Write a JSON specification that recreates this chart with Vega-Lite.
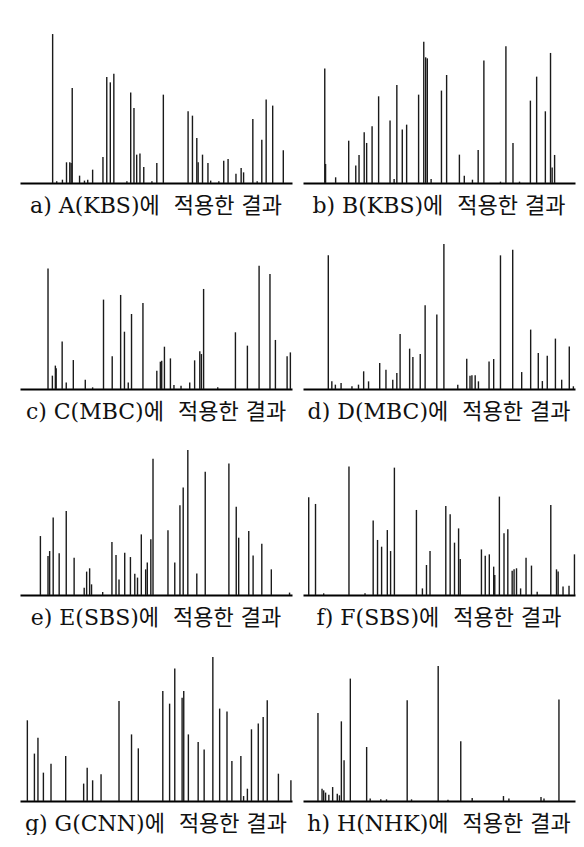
{
  "$schema": "https://vega.github.io/schema/vega-lite/v6.json",
  "background": "white",
  "padding": {"left": 20, "top": 33, "right": 8, "bottom": 0},
  "datasets": {
    "captions": [
      {"p": "a", "caption": "a) A(KBS)에\u00a0 적용한 결과"},
      {"p": "b", "caption": "b) B(KBS)에\u00a0 적용한 결과"},
      {"p": "c", "caption": "c) C(MBC)에\u00a0 적용한 결과"},
      {"p": "d", "caption": "d) D(MBC)에\u00a0 적용한 결과"},
      {"p": "e", "caption": "e) E(SBS)에\u00a0 적용한 결과"},
      {"p": "f", "caption": "f) F(SBS)에\u00a0 적용한 결과"},
      {"p": "g", "caption": "g) G(CNN)에\u00a0 적용한 결과"},
      {"p": "h", "caption": "h) H(NHK)에\u00a0 적용한 결과"}
    ],
    "spikes": [
      {"p":"a","t":12.0,"v":99.3},{"p":"a","t":13.5,"v":1.1},{"p":"a","t":15.6,"v":2.2},{"p":"a","t":17.1,"v":13.8},{"p":"a","t":18.3,"v":13.8},{"p":"a","t":18.8,"v":13.3},{"p":"a","t":19.2,"v":63.3},{"p":"a","t":21.9,"v":4.9},{"p":"a","t":23.7,"v":1.6},{"p":"a","t":24.9,"v":2.2},{"p":"a","t":26.7,"v":8.9},{"p":"a","t":30.5,"v":17.3},{"p":"a","t":31.9,"v":70.7},{"p":"a","t":33.2,"v":67.1},{"p":"a","t":34.5,"v":72.9},{"p":"a","t":39.3,"v":1.1},{"p":"a","t":40.7,"v":60.4},{"p":"a","t":41.9,"v":50},{"p":"a","t":42.9,"v":18.9},{"p":"a","t":44.1,"v":19.6},{"p":"a","t":45.5,"v":10.7},{"p":"a","t":48.5,"v":1.1},{"p":"a","t":50.3,"v":13.3},{"p":"a","t":52.7,"v":58.9},{"p":"a","t":61.8,"v":47.8},{"p":"a","t":63.4,"v":44.9},{"p":"a","t":65.0,"v":30},{"p":"a","t":65.5,"v":13.8},{"p":"a","t":67.1,"v":18.9},{"p":"a","t":69.1,"v":13.3},{"p":"a","t":70.1,"v":1.6},{"p":"a","t":73.1,"v":1.1},{"p":"a","t":74.9,"v":14.9},{"p":"a","t":76.5,"v":16},{"p":"a","t":79.4,"v":6.2},{"p":"a","t":81.3,"v":10},{"p":"a","t":82.2,"v":7.1},{"p":"a","t":85.6,"v":42.7},{"p":"a","t":87.2,"v":1.1},{"p":"a","t":88.9,"v":28.9},{"p":"a","t":90.5,"v":55.6},{"p":"a","t":92.9,"v":51.6},{"p":"a","t":96.8,"v":21.8},
      {"p":"b","t":8.0,"v":76.4},{"p":"b","t":8.3,"v":12.7},{"p":"b","t":12.0,"v":3.8},{"p":"b","t":16.8,"v":28.2},{"p":"b","t":19.4,"v":11.6},{"p":"b","t":20.6,"v":18.7},{"p":"b","t":22.5,"v":33.8},{"p":"b","t":23.4,"v":26.7},{"p":"b","t":25.4,"v":37.8},{"p":"b","t":27.8,"v":57.8},{"p":"b","t":32.0,"v":41.6},{"p":"b","t":33.5,"v":2.7},{"p":"b","t":34.5,"v":65.3},{"p":"b","t":36.5,"v":35.6},{"p":"b","t":38.1,"v":38.9},{"p":"b","t":42.5,"v":58.9},{"p":"b","t":44.4,"v":94.2},{"p":"b","t":45.1,"v":83.8},{"p":"b","t":45.7,"v":83.1},{"p":"b","t":47.1,"v":2.7},{"p":"b","t":50.9,"v":61.6},{"p":"b","t":52.8,"v":72},{"p":"b","t":57.5,"v":18.9},{"p":"b","t":59.3,"v":4.9},{"p":"b","t":62.3,"v":2.2},{"p":"b","t":64.4,"v":22},{"p":"b","t":66.5,"v":81.6},{"p":"b","t":72.6,"v":0.9},{"p":"b","t":74.6,"v":91.1},{"p":"b","t":77.2,"v":26.7},{"p":"b","t":79.6,"v":0.9},{"p":"b","t":83.6,"v":54.9},{"p":"b","t":85.9,"v":70.9},{"p":"b","t":89.1,"v":47.8},{"p":"b","t":91.0,"v":86.7},{"p":"b","t":91.6,"v":10.4},{"p":"b","t":92.5,"v":18.7},
      {"p":"c","t":10.3,"v":80.4},{"p":"c","t":11.9,"v":8.9},{"p":"c","t":13.0,"v":15.6},{"p":"c","t":13.3,"v":13.8},{"p":"c","t":15.5,"v":31.6},{"p":"c","t":17.0,"v":4.4},{"p":"c","t":19.6,"v":19.3},{"p":"c","t":24.0,"v":6.2},{"p":"c","t":26.7,"v":1.1},{"p":"c","t":30.7,"v":59.6},{"p":"c","t":33.9,"v":21.8},{"p":"c","t":37.0,"v":62.7},{"p":"c","t":38.4,"v":38.2},{"p":"c","t":39.8,"v":4.4},{"p":"c","t":41.0,"v":50},{"p":"c","t":45.2,"v":57.3},{"p":"c","t":50.3,"v":12.2},{"p":"c","t":51.6,"v":18.2},{"p":"c","t":52.1,"v":18.9},{"p":"c","t":53.1,"v":28.2},{"p":"c","t":55.3,"v":20.4},{"p":"c","t":56.6,"v":2.7},{"p":"c","t":59.2,"v":2.2},{"p":"c","t":62.4,"v":4.4},{"p":"c","t":64.2,"v":19.1},{"p":"c","t":66.1,"v":25.1},{"p":"c","t":66.7,"v":23.3},{"p":"c","t":67.5,"v":66.7},{"p":"c","t":72.7,"v":1.1},{"p":"c","t":79.2,"v":37.8},{"p":"c","t":83.6,"v":28.9},{"p":"c","t":87.9,"v":82.2},{"p":"c","t":91.9,"v":76.7},{"p":"c","t":93.9,"v":32.7},{"p":"c","t":98.2,"v":21.8},{"p":"c","t":99.4,"v":24.4},
      {"p":"d","t":9.3,"v":89.1},{"p":"d","t":10.6,"v":5.1},{"p":"d","t":11.9,"v":2.9},{"p":"d","t":14.0,"v":4.0},{"p":"d","t":18.0,"v":1.8},{"p":"d","t":20.4,"v":2.9},{"p":"d","t":22.3,"v":11.8},{"p":"d","t":24.1,"v":5.1},{"p":"d","t":28.2,"v":17.3},{"p":"d","t":30.5,"v":12.9},{"p":"d","t":33.0,"v":6.2},{"p":"d","t":34.5,"v":10.7},{"p":"d","t":35.7,"v":36.7},{"p":"d","t":39.2,"v":26.9},{"p":"d","t":40.4,"v":21.3},{"p":"d","t":43.1,"v":23.3},{"p":"d","t":44.9,"v":55.8},{"p":"d","t":49.2,"v":49.6},{"p":"d","t":51.8,"v":96.7},{"p":"d","t":56.9,"v":2.9},{"p":"d","t":60.2,"v":20.2},{"p":"d","t":61.4,"v":8.9},{"p":"d","t":62.1,"v":9.1},{"p":"d","t":63.3,"v":9.1},{"p":"d","t":64.5,"v":5.1},{"p":"d","t":68.4,"v":18.4},{"p":"d","t":70.1,"v":20},{"p":"d","t":72.6,"v":89.1},{"p":"d","t":77.1,"v":92.9},{"p":"d","t":80.4,"v":11.3},{"p":"d","t":83.7,"v":39.6},{"p":"d","t":86.5,"v":24},{"p":"d","t":88.0,"v":5.3},{"p":"d","t":89.8,"v":22.2},{"p":"d","t":92.8,"v":33.6},{"p":"d","t":95.1,"v":6.2},{"p":"d","t":97.9,"v":28.4},{"p":"d","t":99.4,"v":1.8},
      {"p":"e","t":7.5,"v":39.3},{"p":"e","t":10.3,"v":26},{"p":"e","t":10.9,"v":29.3},{"p":"e","t":12.2,"v":51.6},{"p":"e","t":14.4,"v":27.8},{"p":"e","t":17.0,"v":56},{"p":"e","t":19.9,"v":24.9},{"p":"e","t":23.6,"v":4.9},{"p":"e","t":24.5,"v":15.6},{"p":"e","t":25.6,"v":17.8},{"p":"e","t":26.3,"v":7.1},{"p":"e","t":30.4,"v":2.0},{"p":"e","t":33.8,"v":35.3},{"p":"e","t":35.3,"v":26.7},{"p":"e","t":36.4,"v":10.4},{"p":"e","t":38.5,"v":28.2},{"p":"e","t":40.6,"v":25.3},{"p":"e","t":42.2,"v":14.2},{"p":"e","t":43.2,"v":11.6},{"p":"e","t":44.6,"v":40.4},{"p":"e","t":46.2,"v":17.1},{"p":"e","t":46.8,"v":21.6},{"p":"e","t":48.1,"v":37.1},{"p":"e","t":48.9,"v":90.9},{"p":"e","t":54.4,"v":43.1},{"p":"e","t":56.9,"v":21.6},{"p":"e","t":58.8,"v":59.8},{"p":"e","t":60.0,"v":71.6},{"p":"e","t":61.7,"v":96.7},{"p":"e","t":65.0,"v":14.4},{"p":"e","t":68.1,"v":82.2},{"p":"e","t":76.8,"v":87.6},{"p":"e","t":79.5,"v":58.9},{"p":"e","t":80.4,"v":38.2},{"p":"e","t":84.1,"v":42.7},{"p":"e","t":85.7,"v":26.4},{"p":"e","t":88.9,"v":34.2},{"p":"e","t":92.4,"v":17.1},{"p":"e","t":99.1,"v":1.6},
      {"p":"f","t":2.1,"v":65.1},{"p":"f","t":4.6,"v":60.7},{"p":"f","t":7.6,"v":1.1},{"p":"f","t":16.9,"v":85.6},{"p":"f","t":22.8,"v":1.1},{"p":"f","t":25.8,"v":49.6},{"p":"f","t":27.4,"v":36.7},{"p":"f","t":28.9,"v":32.2},{"p":"f","t":31.0,"v":43.3},{"p":"f","t":32.2,"v":29.3},{"p":"f","t":33.6,"v":84.9},{"p":"f","t":41.7,"v":56.7},{"p":"f","t":43.9,"v":4.4},{"p":"f","t":45.4,"v":20},{"p":"f","t":46.7,"v":29.3},{"p":"f","t":52.5,"v":59.3},{"p":"f","t":54.1,"v":53.8},{"p":"f","t":55.7,"v":34.9},{"p":"f","t":57.2,"v":44.4},{"p":"f","t":57.8,"v":24},{"p":"f","t":65.6,"v":30.4},{"p":"f","t":67.0,"v":26.2},{"p":"f","t":68.5,"v":27.1},{"p":"f","t":70.1,"v":18.9},{"p":"f","t":70.5,"v":13.3},{"p":"f","t":72.2,"v":65.6},{"p":"f","t":73.9,"v":41.1},{"p":"f","t":75.3,"v":43.8},{"p":"f","t":76.9,"v":16.2},{"p":"f","t":77.6,"v":17.1},{"p":"f","t":78.5,"v":17.8},{"p":"f","t":80.0,"v":4.4},{"p":"f","t":82.0,"v":24.9},{"p":"f","t":84.0,"v":19.6},{"p":"f","t":86.1,"v":2.2},{"p":"f","t":91.1,"v":60},{"p":"f","t":93.2,"v":17.1},{"p":"f","t":93.8,"v":15.6},{"p":"f","t":95.6,"v":5.6},{"p":"f","t":97.8,"v":6.2},{"p":"f","t":99.8,"v":27.1},
      {"p":"g","t":2.7,"v":53.8},{"p":"g","t":5.3,"v":31.6},{"p":"g","t":6.6,"v":42.2},{"p":"g","t":8.6,"v":18.9},{"p":"g","t":11.4,"v":24.9},{"p":"g","t":16.8,"v":30},{"p":"g","t":23.4,"v":11.6},{"p":"g","t":24.7,"v":22.2},{"p":"g","t":26.7,"v":13.8},{"p":"g","t":29.8,"v":17.8},{"p":"g","t":36.4,"v":66.7},{"p":"g","t":41.0,"v":44.4},{"p":"g","t":43.5,"v":35.1},{"p":"g","t":52.5,"v":73.3},{"p":"g","t":55.0,"v":64.9},{"p":"g","t":56.9,"v":88.4},{"p":"g","t":59.6,"v":68.9},{"p":"g","t":60.2,"v":73.3},{"p":"g","t":61.9,"v":44.4},{"p":"g","t":65.5,"v":39.3},{"p":"g","t":67.7,"v":34.4},{"p":"g","t":70.9,"v":96},{"p":"g","t":73.4,"v":61.6},{"p":"g","t":76.1,"v":59.6},{"p":"g","t":77.9,"v":26.7},{"p":"g","t":81.2,"v":30},{"p":"g","t":82.2,"v":3.3},{"p":"g","t":83.6,"v":8.2},{"p":"g","t":85.1,"v":47.8},{"p":"g","t":87.6,"v":51.6},{"p":"g","t":89.4,"v":56},{"p":"g","t":90.9,"v":67.1},{"p":"g","t":95.0,"v":18.2},{"p":"g","t":99.6,"v":13.8},
      {"p":"h","t":5.5,"v":58.7},{"p":"h","t":7.0,"v":8.2},{"p":"h","t":7.6,"v":7.1},{"p":"h","t":8.3,"v":5.6},{"p":"h","t":9.5,"v":4.2},{"p":"h","t":10.9,"v":9.3},{"p":"h","t":12.6,"v":4.9},{"p":"h","t":13.4,"v":3.8},{"p":"h","t":14.1,"v":53.1},{"p":"h","t":15.1,"v":27.1},{"p":"h","t":17.4,"v":81.6},{"p":"h","t":23.4,"v":36},{"p":"h","t":24.7,"v":1.6},{"p":"h","t":28.6,"v":1.1},{"p":"h","t":30.7,"v":1.1},{"p":"h","t":38.3,"v":67.1},{"p":"h","t":39.9,"v":1.1},{"p":"h","t":49.7,"v":90},{"p":"h","t":53.3,"v":0.9},{"p":"h","t":58.0,"v":39.8},{"p":"h","t":62.2,"v":2.0},{"p":"h","t":73.7,"v":3.3},{"p":"h","t":75.7,"v":1.6},{"p":"h","t":87.5,"v":2.7},{"p":"h","t":88.6,"v":1.6},{"p":"h","t":94.1,"v":67.6}
    ]
  },
  "data": {"name": "spikes"},
  "transform": [
    {"lookup": "p", "from": {"data": {"name": "captions"}, "key": "p", "fields": ["caption"]}}
  ],
  "facet": {
    "field": "caption",
    "type": "nominal",
    "header": {
      "title": null,
      "labelOrient": "bottom",
      "labelFont": "DejaVu Serif, Noto Sans CJK KR",
      "labelFontSize": 22,
      "labelColor": "#111",
      "labelPadding": 12,
      "labelBaseline": "top"
    }
  },
  "columns": 2,
  "spacing": {"row": 22, "column": 10},
  "resolve": {"axis": {"x": "independent"}},
  "spec": {
    "width": 272,
    "height": 150,
    "mark": {"type": "rule", "color": "#1a1a1a", "strokeWidth": 1.4},
    "encoding": {
      "x": {
        "field": "t",
        "type": "quantitative",
        "scale": {"domain": [0, 100], "nice": false},
        "axis": {"title": null, "labels": false, "ticks": false, "grid": false, "domain": true, "domainColor": "#000", "domainWidth": 2.2}
      },
      "y": {
        "field": "v",
        "type": "quantitative",
        "scale": {"domain": [0, 100], "nice": false},
        "axis": null
      },
      "y2": {"datum": 0}
    }
  },
  "config": {"view": {"stroke": null}}
}
